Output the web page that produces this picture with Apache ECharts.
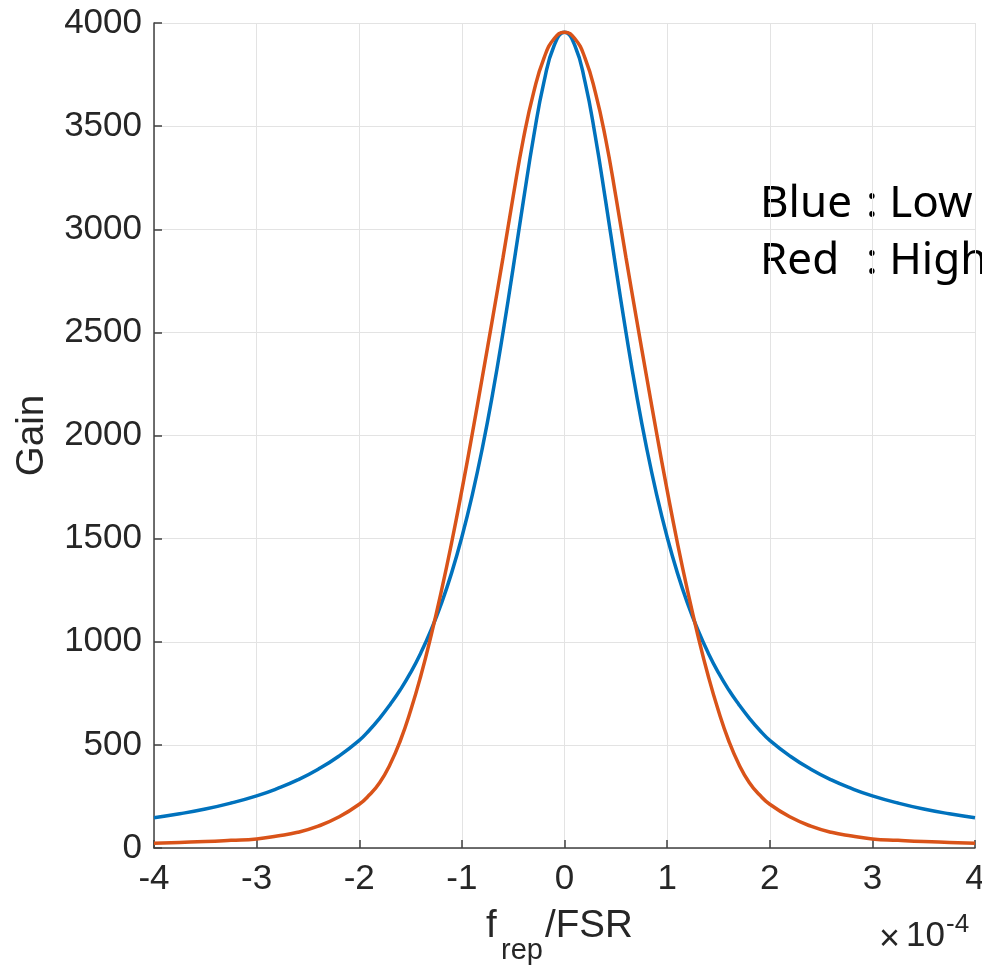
<!DOCTYPE html>
<html>
<head>
<meta charset="utf-8">
<script src="https://cdn.jsdelivr.net/npm/echarts@6/dist/echarts.min.js"></script>
<style>
  html, body { margin: 0; padding: 0; background: #fff; }
  #chart { width: 982px; height: 968px; }
</style>
</head>
<body>
<div id="chart"></div>
<script>
// frequency offset f_rep/FSR, in units of 1e-4
const freq = [
  -4, -3.75, -3.5, -3.25, -3, -2.8, -2.6, -2.4, -2.2, -2, -1.9, -1.8, -1.7, -1.6, -1.5, -1.4,
  -1.3, -1.2, -1.1, -1, -0.9, -0.8, -0.7, -0.6, -0.5, -0.4, -0.3, -0.2, -0.1,
  0,
  0.1, 0.2, 0.3, 0.4, 0.5, 0.6, 0.7, 0.8, 0.9, 1, 1.1, 1.2, 1.3,
  1.4, 1.5, 1.6, 1.7, 1.8, 1.9, 2, 2.2, 2.4, 2.6, 2.8, 3, 3.25, 3.5, 3.75, 4
];
// blue curve (low)
const gainLow = [
  147, 166, 189, 218, 253, 288, 330, 382, 445, 522, 572, 630, 695, 767, 850, 946,
  1057, 1185, 1334, 1508, 1709, 1940, 2203, 2497, 2814, 3140, 3451, 3714, 3892,
  3955,
  3892, 3714, 3451, 3140, 2814, 2497, 2203, 1940, 1709, 1508, 1334, 1185, 1057,
  946, 850, 767, 695, 630, 572, 522, 445, 382, 330, 288, 253, 218, 189, 166, 147
];
// red curve (high)
const gainHigh = [
  23, 27, 31, 37, 44, 58, 76, 106, 150, 212, 258, 318, 405, 520, 665, 835,
  1030, 1245, 1480, 1735, 2005, 2285, 2570, 2860, 3160, 3440, 3665, 3830, 3925,
  3955,
  3925, 3830, 3665, 3440, 3160, 2860, 2570, 2285, 2005, 1735, 1480, 1245, 1030,
  835, 665, 520, 405, 318, 258, 212, 150, 106, 76, 58, 44, 37, 31, 27, 23
];

const chart = echarts.init(document.getElementById('chart'));
const tickFont = 'Liberation Sans';
const axisColor = '#404040';

const option = {
  animation: false,
  backgroundColor: '#fff',
  grid: { left: 154, right: 7, top: 23, bottom: 120, outerBoundsMode: 'none' },
  xAxis: {
    type: 'value', min: -4, max: 4, interval: 1,
    axisLine: { onZero: false, lineStyle: { color: axisColor, width: 1.5 } },
    axisTick: { inside: true, length: 8, lineStyle: { color: axisColor, width: 1.5 } },
    axisLabel: { fontFamily: tickFont, fontSize: 35, color: '#262626', margin: 14 },
    splitLine: { show: true, lineStyle: { color: '#e3e3e3', width: 1 } }
  },
  yAxis: {
    type: 'value', min: 0, max: 4000, interval: 500,
    name: 'Gain', nameLocation: 'middle', nameGap: 102, nameRotate: 90,
    nameTextStyle: { fontFamily: tickFont, fontSize: 38.5, color: '#262626' },
    axisLine: { show: true, onZero: false, lineStyle: { color: axisColor, width: 1.5 } },
    axisTick: { show: true, inside: true, length: 8, lineStyle: { color: axisColor, width: 1.5 } },
    axisLabel: { fontFamily: tickFont, fontSize: 35, color: '#262626', margin: 12, formatter: v => String(v) },
    splitLine: { show: true, lineStyle: { color: '#e3e3e3', width: 1 } }
  },
  series: [
    {
      name: 'Low', type: 'line', showSymbol: false, smooth: true,
      lineStyle: { color: '#0072BD', width: 3.5 },
      data: freq.map((f, i) => [f, gainLow[i]])
    },
    {
      name: 'High', type: 'line', showSymbol: false, smooth: true,
      lineStyle: { color: '#D95319', width: 3.5 },
      data: freq.map((f, i) => [f, gainHigh[i]])
    }
  ],
  graphic: [
    // annotation
    { type: 'text', left: 760, top: 182, style: { text: 'Blue', font: '44px "Noto Sans"', fill: '#000' } },
    { type: 'text', left: 866, top: 182, style: { text: ': Low', font: '44px "Noto Sans"', fill: '#000' } },
    { type: 'text', left: 760, top: 239, style: { text: 'Red', font: '44px "Noto Sans"', fill: '#000' } },
    { type: 'text', left: 866, top: 239, style: { text: ': High', font: '44px "Noto Sans"', fill: '#000' } },
    // x axis name  f_rep/FSR
    { type: 'text', left: 486, top: 907, style: { text: 'f', font: '38.5px "Liberation Sans"', fill: '#262626' } },
    { type: 'text', left: 501, top: 936, style: { text: 'rep', font: '29px "Liberation Sans"', fill: '#262626' } },
    { type: 'text', left: 545, top: 907, style: { text: '/FSR', font: '38.5px "Liberation Sans"', fill: '#262626' } },
    // exponent  x10^-4
    { type: 'text', left: 879, top: 922, style: { text: '×', font: '36px "Liberation Sans"', fill: '#262626' } },
    { type: 'text', left: 906, top: 919, style: { text: '10', font: '35px "Liberation Sans"', fill: '#262626' } },
    { type: 'text', left: 946, top: 912, style: { text: '-4', font: '26px "Liberation Sans"', fill: '#262626' } }
  ]
};
chart.setOption(option);
</script>
</body>
</html>
